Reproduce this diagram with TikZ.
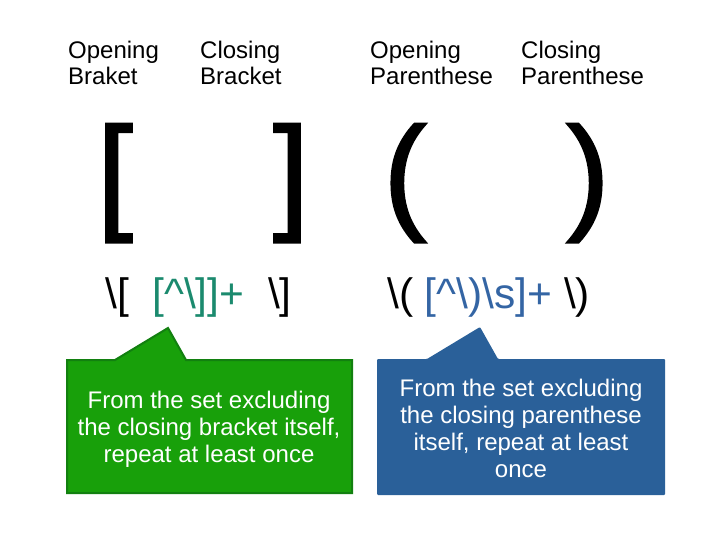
\documentclass[tikz,border=0pt]{standalone}
\usepackage{fontspec}
\setmainfont{Liberation Sans}
\newfontfamily\glyphfont[FakeBold=2]{Liberation Sans}
\usepackage{tikz}
\usetikzlibrary{positioning}
\definecolor{boxgreen}{HTML}{18A00A}
\definecolor{boxgreenline}{HTML}{128010}
\definecolor{boxblue}{HTML}{2A6099}
\definecolor{regteal}{HTML}{1B8A6E}
\definecolor{regblue}{HTML}{3465A4}

\begin{document}
\begin{tikzpicture}[x=1pt, y=-1pt,
    label/.style={inner sep=0, anchor=base west, align=left,
        font=\fontsize{24}{26}\selectfont},
    glyph/.style={inner sep=0, anchor=base, font=\glyphfont\fontsize{127}{127}\selectfont},
    regex/.style={inner sep=0, anchor=base west, font=\fontsize{42.5}{44}\selectfont},
    note/.style={inner sep=0, align=center, text=white,
        font=\fontsize{24}{27}\selectfont}]
    \useasboundingbox (0,0) rectangle (720,540);
    % headings
    \node[label] (openbr) at (68,85) {Opening\\Braket};
    \node[label] (closebr) at (200,85) {Closing\\Bracket};
    \node[label] (openpa) at (370,85) {Opening\\Parenthese};
    \node[label] (closepa) at (521,85) {Closing\\Parenthese};
    % big glyphs
    \node[glyph] (gopenbr) at (115,216) {[};
    \node[glyph] (gclosebr) at (291,216) {]};
    \node[glyph] (gopenpa) at (405,216) {(};
    \node[glyph] (gclosepa) at (588,216) {)};
    % the two expressions
    \node[regex] (rebr) at (105,308) {\textbackslash[~~\textcolor{regteal}{[\textasciicircum\textbackslash]]+}~~\textbackslash]};
    \node[regex] (repa) at (387,308) {\textbackslash(~\textcolor{regblue}{[\textasciicircum\textbackslash)\textbackslash s]+}~\textbackslash)};
    % callouts
    \draw[boxgreenline, fill=boxgreen, line width=2pt]
        (67,360) -- (115,360) -- (168,328) -- (186,360) -- (352,360)
        -- (352,493) -- (67,493) -- cycle;
    \fill[boxblue, rounded corners=1pt]
        (377,359) -- (427,359) -- (480,327) -- (498,359) -- (665,359)
        -- (665,495) -- (377,495) -- cycle;
    \node[note] (notebr) at (209,429) {From the set excluding\\the closing bracket itself,\\repeat at least once};
    \node[note] (notepa) at (521,428) {From the set excluding\\the closing parenthese\\itself, repeat at least\\once};
\end{tikzpicture}
\end{document}
